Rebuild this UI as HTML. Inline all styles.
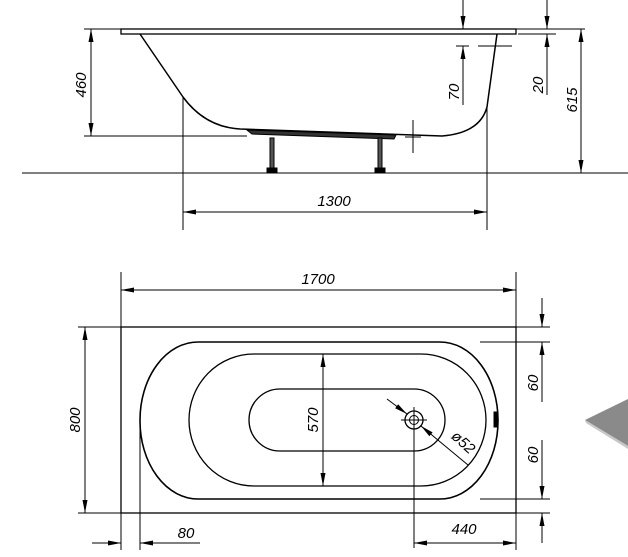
<!DOCTYPE html>
<html><head><meta charset="utf-8"><style>
html,body{margin:0;padding:0;background:#fff;}
svg{display:block}
text{font-family:"Liberation Sans",sans-serif;font-style:italic;font-size:15px;fill:#000}
</style></head><body>
<svg width="628" height="557" viewBox="0 0 628 557" xmlns="http://www.w3.org/2000/svg">
<defs>
<marker id="a" markerUnits="userSpaceOnUse" markerWidth="14" markerHeight="8" refX="13" refY="3.5" orient="auto-start-reverse">
<path d="M0,1 L13,3.5 L0,6 Z" fill="#000"/></marker>
</defs>
<g stroke="#000" fill="none" stroke-width="1">
<!-- SIDE VIEW -->
<line x1="22" y1="173" x2="628" y2="173"/>
<rect x="121" y="29" width="395" height="5" stroke-width="1.3"/>
<path d="M140,34 L183,97 Q205,127 240,129 L442,136 Q480,133 487,107 L497,34" stroke-width="1.5"/>
<path d="M247,130 L396,135 L394,139 L252,134 Z" fill="#333"/>
<rect x="270" y="138" width="4" height="34" fill="#555"/>
<rect x="378" y="138" width="4" height="34" fill="#555"/>
<rect x="267" y="168" width="10" height="5" fill="#000"/>
<rect x="375" y="168" width="10" height="5" fill="#000"/>
<line x1="413" y1="120" x2="413" y2="153"/>
<line x1="405" y1="137" x2="421" y2="137"/>
<line x1="84" y1="29" x2="121" y2="29"/>
<line x1="84" y1="136" x2="247" y2="136"/>
<line x1="91" y1="29" x2="91" y2="136" marker-start="url(#a)" marker-end="url(#a)"/>
<line x1="183" y1="97" x2="183" y2="230"/>
<line x1="487" y1="107" x2="487" y2="230"/>
<line x1="183" y1="212" x2="487" y2="212" marker-start="url(#a)" marker-end="url(#a)"/>
<line x1="463" y1="0" x2="463" y2="29" marker-end="url(#a)"/>
<line x1="463" y1="105" x2="463" y2="46" marker-end="url(#a)"/>
<line x1="456" y1="46" x2="469" y2="46"/>
<line x1="478" y1="46" x2="512" y2="46"/>
<line x1="516" y1="29" x2="585" y2="29"/>
<line x1="518" y1="34" x2="556" y2="34"/>
<line x1="547" y1="0" x2="547" y2="29" marker-end="url(#a)"/>
<line x1="547" y1="95" x2="547" y2="34" marker-end="url(#a)"/>
<line x1="581" y1="29" x2="581" y2="173" marker-start="url(#a)" marker-end="url(#a)"/>
<!-- TOP VIEW -->
<rect x="121" y="327" width="395" height="186" stroke-width="1.3"/>
<line x1="78" y1="327" x2="550" y2="327"/>
<line x1="78" y1="513" x2="550" y2="513"/>
<line x1="480" y1="342" x2="550" y2="342"/>
<line x1="480" y1="499" x2="550" y2="499"/>
<rect x="140" y="342" width="358" height="157" rx="58" ry="78" stroke-width="1.6"/>
<rect x="189" y="354" width="297" height="132" rx="65" ry="66" stroke-width="1.3"/>
<rect x="249" y="389" width="196" height="62" rx="31" ry="31" stroke-width="1.3"/>
<rect x="494" y="412" width="3" height="15" fill="#000"/>
<circle cx="414" cy="420" r="9" stroke-width="1.3"/>
<circle cx="414" cy="420" r="4.5"/>
<line x1="401" y1="420" x2="427" y2="420"/>
<line x1="414" y1="407" x2="414" y2="548"/>
<line x1="387" y1="399" x2="407" y2="414" marker-end="url(#a)"/>
<line x1="468" y1="465" x2="421" y2="426" marker-end="url(#a)"/>
<line x1="323" y1="354" x2="323" y2="486" marker-start="url(#a)" marker-end="url(#a)"/>
<line x1="85" y1="327" x2="85" y2="513" marker-start="url(#a)" marker-end="url(#a)"/>
<line x1="121" y1="272" x2="121" y2="550"/>
<line x1="516" y1="272" x2="516" y2="550"/>
<line x1="121" y1="290" x2="516" y2="290" marker-start="url(#a)" marker-end="url(#a)"/>
<line x1="542" y1="298" x2="542" y2="327" marker-end="url(#a)"/>
<line x1="542" y1="402" x2="542" y2="342" marker-end="url(#a)"/>
<line x1="542" y1="440" x2="542" y2="499" marker-end="url(#a)"/>
<line x1="542" y1="543" x2="542" y2="513" marker-end="url(#a)"/>
<line x1="140" y1="420" x2="140" y2="550"/>
<line x1="92" y1="543" x2="121" y2="543" marker-end="url(#a)"/>
<line x1="200" y1="543" x2="140" y2="543" marker-end="url(#a)"/>
<line x1="414" y1="543" x2="516" y2="543" marker-start="url(#a)" marker-end="url(#a)"/>
</g>
<polygon points="585,420 628,399 628,446" fill="#8a8a8a"/>
<polygon points="585,420 628,446 628,449 586,423" fill="#c8c8c8"/>
<!-- labels -->
<text transform="translate(86,85) rotate(-90)" text-anchor="middle">460</text>
<text x="334" y="206" text-anchor="middle">1300</text>
<text transform="translate(459,92) rotate(-90)" text-anchor="middle">70</text>
<text transform="translate(543,85) rotate(-90)" text-anchor="middle">20</text>
<text transform="translate(577,100) rotate(-90)" text-anchor="middle">615</text>
<text x="318" y="284" text-anchor="middle">1700</text>
<text transform="translate(80,420) rotate(-90)" text-anchor="middle">800</text>
<text transform="translate(318,420) rotate(-90)" text-anchor="middle">570</text>
<text transform="translate(538,383) rotate(-90)" text-anchor="middle">60</text>
<text transform="translate(538,455) rotate(-90)" text-anchor="middle">60</text>
<text transform="translate(460,446) rotate(42)" text-anchor="middle" font-size="13">ø52</text>
<text x="186" y="538" text-anchor="middle">80</text>
<text x="464" y="534" text-anchor="middle">440</text>
</svg>
</body></html>
